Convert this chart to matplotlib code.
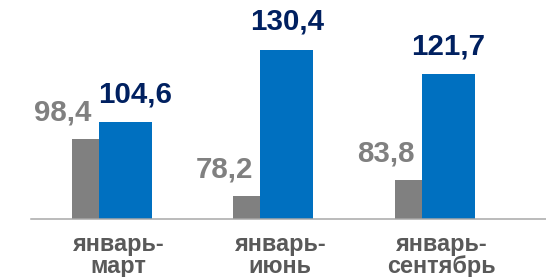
import matplotlib
matplotlib.use("Agg")
import matplotlib.pyplot as plt
import numpy as np

categories = ["январь-\nмарт", "январь-\nиюнь", "январь-\nсентябрь"]
grey_values = [98.4, 78.2, 83.8]
blue_values = [104.6, 130.4, 121.7]
grey_labels = ["98,4", "78,2", "83,8"]
blue_labels = ["104,6", "130,4", "121,7"]

plt.rcParams['font.family'] = ['Liberation Sans', 'DejaVu Sans']

W, H = 546, 277
fig = plt.figure(figsize=(W / 72, H / 72), dpi=72)
ax = fig.add_axes([31 / W, (H - 219) / H, 1 - 31 / W, 219 / H])

base = 70
x = np.arange(len(categories))
gw, bw = 0.167, 0.330
ax.bar(x - gw, np.array(grey_values) - base, width=gw, bottom=base, align='edge', color='#808080')
ax.bar(x, np.array(blue_values) - base, width=bw, bottom=base, align='edge', color='#0070C0')

ax.set_xlim(-0.419, 2.770)
ax.set_ylim(base, base + 219 / 2.802)

for xi, v, lab in zip(x, grey_values, grey_labels):
    ax.annotate(lab, (xi, v), xytext=(-36, 13), textcoords='offset points',
                ha='center', va='bottom', fontsize=29.5, fontweight='bold', color='#808080')
for xi, v, gv, lab in zip(x, blue_values, grey_values, blue_labels):
    # shift right when label would collide with the grey label
    dx = 10 if (v - gv) < 15 else 0
    ax.annotate(lab, (xi + bw / 2, v), xytext=(dx, 14), textcoords='offset points',
                ha='center', va='bottom', fontsize=29.5, fontweight='bold', color='#002060')
for xi, lab in zip(x, categories):
    ax.annotate(lab, (xi + 0.12, 0), xycoords=('data', 'axes fraction'),
                xytext=(0, -14), textcoords='offset points', ha='center', va='top',
                fontsize=23.5, fontweight='bold', color='#595959', linespacing=0.92)

for s in ['top', 'right', 'left']:
    ax.spines[s].set_visible(False)
ax.spines['bottom'].set_color('#A6A6A6')
ax.spines['bottom'].set_linewidth(1.5)
ax.set_xticks([])
ax.set_yticks([])
ax.patch.set_alpha(0)

fig.savefig("out.png", dpi=72)
